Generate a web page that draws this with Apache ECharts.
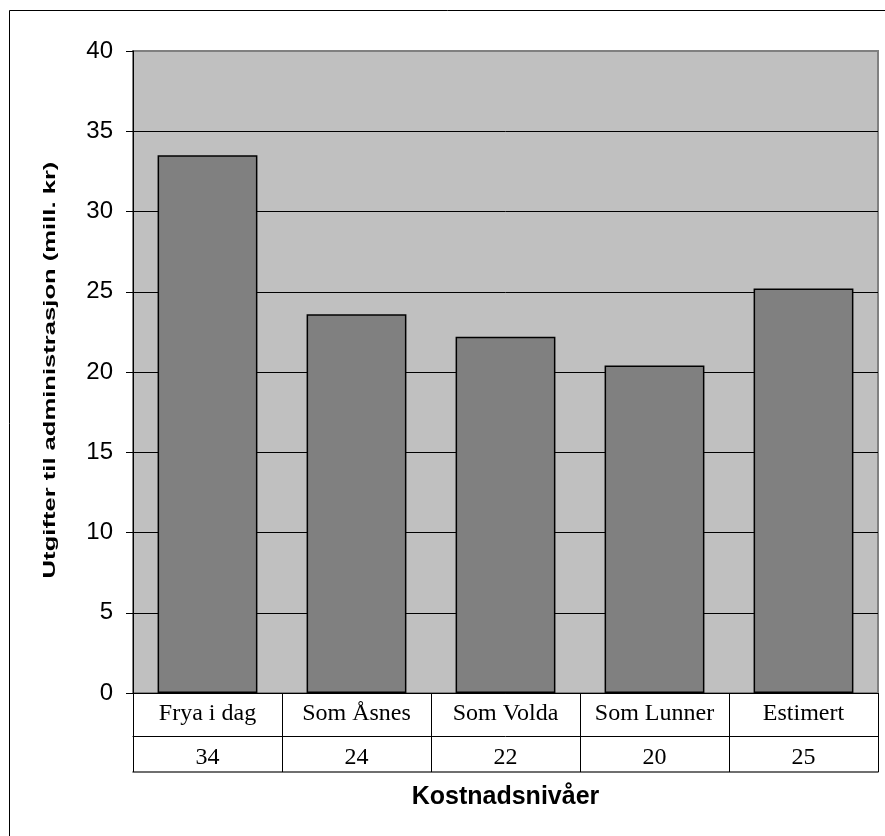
<!DOCTYPE html>
<html>
<head>
<meta charset="utf-8">
<script src="https://cdn.jsdelivr.net/npm/echarts@6/dist/echarts.min.js"></script>
<style>
  html, body { margin: 0; padding: 0; background: #ffffff; }
  #chart { width: 885px; height: 836px; }
</style>
</head>
<body>
<div id="chart"></div>
<script>
// Administrative cost levels (mill. kr) per scenario
const categories = ['Frya i dag', 'Som Åsnes', 'Som Volda', 'Som Lunner', 'Estimert'];
const costs = [33.5, 23.6, 22.2, 20.4, 25.2];
const yAxisTitle = 'Utgifter til administrasjon (mill. kr)';
const xAxisTitle = 'Kostnadsnivåer';
const yMin = 0, yMax = 40, yStep = 5;

// Table row under the axis shows the rounded value of each bar
const tableValues = costs.map(v => String(Math.round(v)));

const SANS = '"Liberation Sans", Arial, sans-serif';
const SERIF = '"Liberation Serif", "Times New Roman", serif';

const chart = echarts.init(document.getElementById('chart'), null, { renderer: 'canvas' });

chart.setOption({
  animation: false,
  backgroundColor: '#ffffff',
  grid: {
    left: 133, right: 7, top: 51, bottom: 143,
    show: true,
    backgroundColor: '#C0C0C0',
    borderColor: '#808080',
    borderWidth: 2
  },
  xAxis: [
    {
      type: 'category',
      data: categories,
      position: 'bottom',
      gridIndex: 0,
      axisLine: { show: true, lineStyle: { color: '#000000', width: 1 } },
      axisTick: { show: true, interval: 0, length: 79, inside: false, lineStyle: { color: '#000000', width: 1 } },
      axisLabel: { interval: 0, margin: 9, color: '#000000', fontFamily: SERIF, fontSize: 24 },
      splitLine: { show: false }
    },
    {
      type: 'category',
      data: tableValues,
      position: 'bottom',
      gridIndex: 0,
      offset: 43,
      axisLine: { show: true, lineStyle: { color: '#000000', width: 1 } },
      axisTick: { show: false },
      axisLabel: { interval: 0, margin: 10, color: '#000000', fontFamily: SERIF, fontSize: 24 },
      splitLine: { show: false }
    },
    {
      type: 'category',
      data: categories,
      position: 'bottom',
      gridIndex: 0,
      offset: 79,
      axisLine: { show: true, lineStyle: { color: '#404040', width: 1.5 } },
      axisTick: { show: false },
      axisLabel: { show: false },
      splitLine: { show: false },
      name: xAxisTitle,
      nameLocation: 'middle',
      nameGap: 13,
      nameTextStyle: { color: '#000000', fontFamily: SANS, fontSize: 25, fontWeight: 'bold' }
    }
  ],
  yAxis: {
    type: 'value',
    min: yMin,
    max: yMax,
    interval: yStep,
    axisLine: { show: true, lineStyle: { color: '#000000', width: 1 } },
    axisTick: { show: true, length: 7, inside: false, lineStyle: { color: '#000000', width: 1 } },
    axisLabel: { margin: 20, color: '#000000', fontFamily: SANS, fontSize: 24 },
    splitLine: { show: true, showMaxLine: false, lineStyle: { color: '#000000', width: 1 } }
  },
  series: [
    {
      type: 'bar',
      xAxisIndex: 0,
      data: costs,
      barCategoryGap: '33%',
      itemStyle: { color: '#808080', borderColor: '#000000', borderWidth: 1.5 },
      emphasis: { disabled: true }
    }
  ],
  graphic: [
    {
      type: 'rect',
      silent: true,
      shape: { x: 9.5, y: 10.5, width: 1000, height: 1000 },
      style: { fill: 'none', stroke: '#000000', lineWidth: 1 },
      z: 100
    },
    {
      type: 'text',
      silent: true,
      x: 51,
      y: 370,
      rotation: Math.PI / 2,
      scaleX: 1.6,
      style: {
        text: yAxisTitle,
        font: 'bold 16px ' + SANS,
        fill: '#000000',
        align: 'center',
        verticalAlign: 'middle'
      },
      z: 100
    }
  ]
});
</script>
</body>
</html>
